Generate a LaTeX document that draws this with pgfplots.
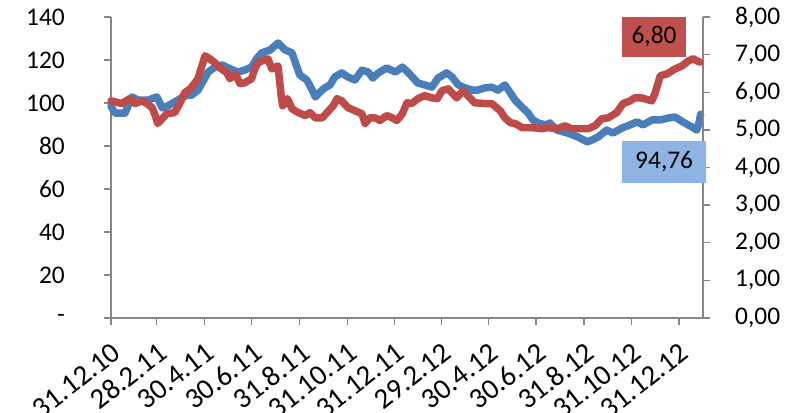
\documentclass[border=0pt]{standalone}
\usepackage{pgfplots}
\pgfplotsset{compat=1.18}
\usepackage{fontspec}
\setmainfont{Carlito}

\definecolor{serA}{HTML}{4A7EBB}
\definecolor{serB}{HTML}{BE4B48}
\definecolor{boxA}{HTML}{8EB4E3}
\definecolor{boxB}{HTML}{C0504D}
\definecolor{axgrey}{HTML}{868686}

\newcommand{\lblfont}{\fontsize{25.5}{26}\selectfont}
\newcommand{\datefont}{\fontsize{29}{30}\selectfont}

\pgfplotsset{
  twin/.style={
    at={(111bp,94bp)}, anchor=south west,
    scale only axis, width=592bp, height=301bp,
    xmin=0, xmax=762,
    axis line style={axgrey, line width=1.3pt},
    tick style={axgrey, line width=1.3pt},
    tick align=outside, major tick length=7bp,
    ticklabel style={font=\lblfont, black, inner sep=0pt},
    /pgf/number format/assume math mode=true,
    clip=false,
  },
  series/.style={line width=7.5pt, line join=round, line cap=round},
}

\begin{document}
\begin{tikzpicture}[x=1bp,y=1bp]
\useasboundingbox (0,0) rectangle (794,412);

% left scale: index (days since 31.12.2010 on x)
\begin{axis}[twin,
  ymin=0, ymax=140,
  axis x line*=bottom, axis y line*=left,
  xtick={0,59,120,181,243,304,365,425,486,547,609,670,731},
  xticklabels={31.12.10,28.2.11,30.4.11,30.6.11,31.8.11,31.10.11,31.12.11,29.2.12,30.4.12,30.6.12,31.8.12,31.10.12,31.12.12},
  xticklabel style={font=\datefont, rotate=38, anchor=north east},
  xticklabel shift=16bp,
  ytick={0,20,40,60,80,100,120,140},
  yticklabels={-,20,40,60,80,100,120,140},
  yticklabel style={anchor=east},
  yticklabel shift=39bp,
]
\addplot[serA, series] coordinates {
(0,98.5)(5,95.3)(18,95.3)(27,102.8)(35,101.4)(48,101.4)(59,102.8)(66,97.7)(73,98.6)
(82,100.5)(95,103.3)(104,103.7)(112,106.0)(118,109.8)(125,114.4)(134,116.7)(143,117.7)
(151,116.3)(163,114.4)(172,115.3)(181,116.7)(188,120.9)(194,123.3)(205,124.7)(215,127.9)
(224,124.7)(233,123.3)(237,119.1)(243,113.0)(252,110.7)(259,106.0)(263,102.8)(269,105.1)
(275,107.0)(282,108.4)(288,112.1)(297,114.0)(305,112.1)(314,110.7)(323,115.3)(331,114.4)
(337,111.6)(344,114.0)(355,116.3)(366,114.4)(375,116.7)(382,114.4)(395,109.3)(404,108.4)
(413,107.4)(421,111.6)(432,114.0)(439,112.1)(447,108.4)(456,107.0)(465,106.0)(472,106.0)
(481,107.0)(490,107.4)(498,106.0)(507,108.4)(514,104.7)(520,101.4)(529,98.1)(537,95.3)
(543,92.1)(550,90.7)(559,89.8)(565,90.7)(574,87.4)(588,86.0)(601,84.2)(613,81.9)
(619,82.8)(627,84.2)(638,87.4)(646,86.0)(658,88.4)(668,89.8)(677,91.2)(685,89.8)
(696,92.1)(707,92.1)(717,93.0)(726,93.5)(736,91.2)(748,88.8)(754,87.4)(757,91.2)(759,94.76)
};
\coordinate (bluelbl) at (axis cs:712,72.6);
\end{axis}

% right scale: rate
\begin{axis}[twin,
  ymin=0, ymax=8,
  axis x line=none, axis y line*=right,
  ytick={0,1,2,3,4,5,6,7,8},
  yticklabel style={anchor=west},
  yticklabel shift=25bp,
  yticklabel={\pgfmathprintnumber[fixed, fixed zerofill, precision=2, use comma]{\tick}},
]
\addplot[serB, series] coordinates {
(0,5.77)(14,5.70)(24,5.83)(31,5.70)(40,5.77)(46,5.70)(53,5.59)(57,5.38)(60,5.17)(66,5.30)
(72,5.43)(82,5.46)(89,5.72)(95,5.99)(102,6.09)(108,6.25)(112,6.36)(117,6.70)(121,6.97)
(127,6.89)(134,6.78)(140,6.65)(149,6.52)(153,6.36)(160,6.49)(166,6.23)(172,6.25)(181,6.36)
(185,6.62)(189,6.78)(194,6.83)(202,6.89)(207,6.62)(215,6.70)(219,5.91)(221,5.64)(227,5.83)
(233,5.56)(241,5.46)(250,5.38)(256,5.46)(263,5.32)(272,5.32)(278,5.46)(286,5.64)(291,5.83)
(297,5.77)(305,5.59)(314,5.51)(323,5.43)(327,5.17)(333,5.32)(340,5.32)(346,5.25)(355,5.38)
(362,5.32)(368,5.25)(375,5.43)(381,5.72)(387,5.70)(395,5.83)(404,5.91)(413,5.85)(420,5.83)
(426,6.04)(434,6.09)(445,5.85)(453,6.04)(462,5.85)(468,5.72)(481,5.70)(490,5.70)(501,5.51)
(507,5.32)(514,5.19)(520,5.17)(529,5.06)(542,5.06)(555,5.03)(562,5.06)(575,5.03)(584,5.11)
(593,5.03)(606,5.03)(614,5.03)(623,5.11)(632,5.30)(640,5.32)(651,5.46)(659,5.70)(668,5.77)
(674,5.85)(683,5.85)(696,5.77)(700,5.96)(707,6.44)(716,6.49)(726,6.62)(735,6.70)(743,6.83)
(749,6.89)(758,6.80)
};
\coordinate (redlbl) at (axis cs:699,7.47);
\end{axis}

% value labels for the last observations
\node[fill=boxB, minimum width=64bp, minimum height=40bp, inner sep=0pt, font=\lblfont] at (redlbl) {6,80};
\node[fill=boxA, minimum width=84bp, minimum height=42bp, inner sep=0pt, font=\lblfont] at (bluelbl) {94,76};
\end{tikzpicture}
\end{document}
